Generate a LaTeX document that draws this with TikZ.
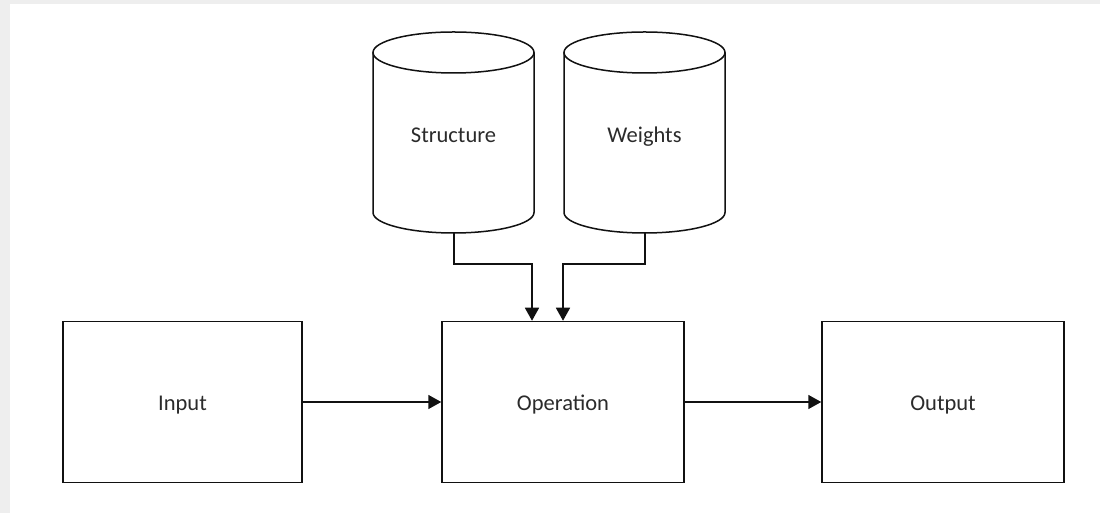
\documentclass[tikz,border=0pt]{standalone}
\usepackage{fontspec}
\setmainfont{Carlito}
\usetikzlibrary{arrows.meta}
\definecolor{bggray}{HTML}{EEEEEE}
\definecolor{txt}{HTML}{2B2B2B}
\definecolor{ln}{HTML}{111111}
\begin{document}
\begin{tikzpicture}[x=1pt,y=1pt,
  fnt/.style={text=txt,font=\fontsize{22.5}{26}\selectfont,text height=0.65em,text depth=0pt},
  box/.style={draw=ln,line width=1.5pt,minimum width=#1,minimum height=161pt,inner sep=0pt},
  lbl/.style={fnt,inner sep=0pt},
  cyl/.style={draw=ln,line width=1.5pt,fill=white},
  conn/.style={draw=ln,line width=1.6pt,-{Triangle[length=13pt,width=14pt]}}]
\useasboundingbox (0,0) rectangle (1100,513);
\fill[bggray] (0,0) rectangle (1100,513);
\fill[white] (10,0) rectangle (1100,509);
% cylinders
\path[cyl] (373,460.5) -- (373,300.5) arc (180:360:80.5 and 20.5) -- (534,460.5);
\path[cyl] (453.5,460.5) ellipse (80.5 and 20.5);
\path[cyl] (564,460.5) -- (564,300.5) arc (180:360:80.5 and 20.5) -- (725,460.5);
\path[cyl] (644.5,460.5) ellipse (80.5 and 20.5);
\node[lbl] (structure) at (453.5,374) {Structure};
\node[lbl] (weights) at (644.5,374) {Weights};
\coordinate (sb) at (454,280);
\coordinate (wb) at (645,280);
% boxes
\node[box=239pt] (input) at (182.5,111) {};
\node[box=242pt] (operation) at (563,111) {};
\node[box=242pt] (output) at (943,111) {};
\node[lbl] (inputlbl) at ([yshift=-5pt]input.center) {Input};
\node[lbl] (operationlbl) at ([yshift=-5pt]operation.center) {Operation};
\node[lbl] (outputlbl) at ([yshift=-5pt]output.center) {Output};
% connectors
\draw[conn] (input.east) -- (operation.west);
\draw[conn] (operation.east) -- (output.west);
\draw[conn] (sb) -- (454,249) -- (532,249) -- (operation.north -| 532,0);
\draw[conn] (wb) -- (645,249) -- (563,249) -- (operation.north -| 563,0);
\end{tikzpicture}
\end{document}
